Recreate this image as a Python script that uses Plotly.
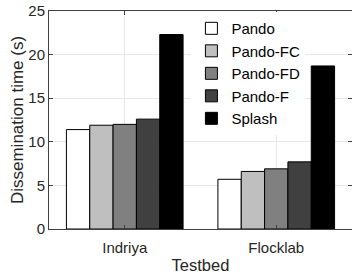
import plotly.graph_objects as go

testbeds = ["Indriya", "Flocklab"]
series_names = ["Pando", "Pando-FC", "Pando-FD", "Pando-F", "Splash"]
pando = [11.4, 5.7]
pando_fc = [11.9, 6.6]
pando_fd = [12.0, 6.9]
pando_f = [12.6, 7.7]
splash = [22.3, 18.7]
colors = ["#ffffff", "#bfbfbf", "#808080", "#404040", "#000000"]

values = [pando, pando_fc, pando_fd, pando_f, splash]

fig = go.Figure()
for name, vals, col in zip(series_names, values, colors):
    fig.add_trace(go.Bar(
        x=testbeds, y=vals, name=name,
        marker=dict(color=col, line=dict(color="#000000", width=1)),
    ))

font_family = "Liberation Sans, Arial, sans-serif"
axis_col = "#404040"

fig.update_layout(
    width=352, height=274,
    margin=dict(l=49, r=0, t=11, b=45),
    paper_bgcolor="white", plot_bgcolor="white",
    barmode="group", bargap=0.23, bargroupgap=0,
    font=dict(family=font_family, size=15, color="#262626"),
    showlegend=True,
    legend=dict(
        x=0.47, y=0.995, xanchor="left", yanchor="top",
        bgcolor="white", borderwidth=0,
        font=dict(size=15, color="#000000"),
        tracegroupgap=0,
    ),
    xaxis=dict(
        title=dict(text="Testbed", font=dict(size=16.5), standoff=6),
        showline=True, linecolor=axis_col, linewidth=1, mirror="ticks",
        ticks="inside", ticklen=4, tickcolor=axis_col,
        ticklabelstandoff=5,
        showgrid=True, gridcolor="#e8e8e8", gridwidth=1,
        tickfont=dict(size=15),
    ),
    yaxis=dict(
        title=dict(text="Dissemination time (s)", font=dict(size=17), standoff=0),
        range=[0, 25], dtick=5,
        showline=True, linecolor=axis_col, linewidth=1, mirror="ticks",
        ticks="inside", ticklen=4, tickcolor=axis_col,
        showgrid=True, gridcolor="#e8e8e8", gridwidth=1,
        zeroline=False,
        tickfont=dict(size=15),
    ),
)

fig.write_html(
    "out.html",
    config={"displayModeBar": False},
    post_script="document.body.style.margin='0';",
)
